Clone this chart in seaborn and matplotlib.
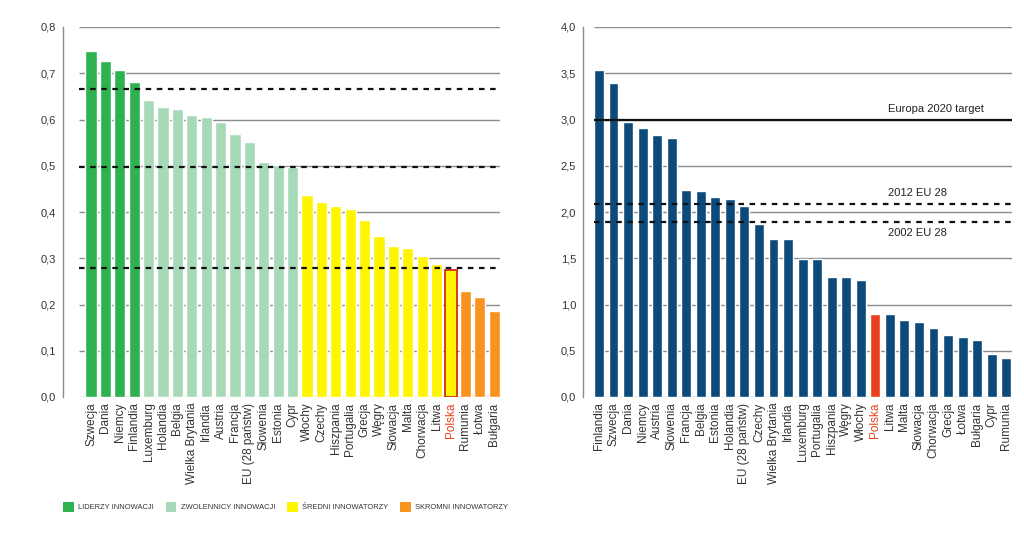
import matplotlib
matplotlib.use("Agg")
import matplotlib.pyplot as plt
import matplotlib.ticker as mticker
from matplotlib.patches import Patch
import seaborn as sns
import pandas as pd

sns.set_theme(style="white")
plt.rcParams['font.family'] = ['Liberation Sans', 'DejaVu Sans']

# ---- Left chart data ----
left_countries = ["Szwecja", "Dania", "Niemcy", "Finlandia", "Luxemburg", "Holandia", "Belgia",
                  "Wielka Brytania", "Irlandia", "Austria", "Francja", "EU (28 państw)", "Słowenia",
                  "Estonia", "Cypr", "Włochy", "Czechy", "Hiszpania", "Portugalia", "Grecja", "Węgry",
                  "Słowacja", "Malta", "Chorwacja", "Litwa", "Polska", "Rumunia", "Łotwa", "Bułgaria"]
left_values = [0.748, 0.727, 0.708, 0.682, 0.642, 0.626, 0.623, 0.609, 0.605, 0.594, 0.568, 0.551,
               0.509, 0.501, 0.498, 0.437, 0.422, 0.413, 0.407, 0.383, 0.348, 0.327, 0.322, 0.304,
               0.287, 0.275, 0.230, 0.217, 0.185]
left_groups = (["LIDERZY INNOWACJI"] * 4 + ["ZWOLENNICY INNOWACJI"] * 11 +
               ["ŚREDNI INNOWATORZY"] * 11 + ["SKROMNI INNOWATORZY"] * 3)
group_names = ["LIDERZY INNOWACJI", "ZWOLENNICY INNOWACJI", "ŚREDNI INNOWATORZY", "SKROMNI INNOWATORZY"]
group_colors = ["#2db24f", "#a6d9b8", "#fff500", "#f7931e"]
left_ref_lines = [0.666, 0.498, 0.279]

# ---- Right chart data ----
right_countries = ["Finlandia", "Szwecja", "Dania", "Niemcy", "Austria", "Słowenia", "Francja", "Belgia",
                   "Estonia", "Holandia", "EU (28 państw)", "Czechy", "Wielka Brytania", "Irlandia",
                   "Luxemburg", "Portugalia", "Hiszpania", "Węgry", "Włochy", "Polska", "Litwa", "Malta",
                   "Słowacja", "Chorwacja", "Grecja", "Łotwa", "Bułgaria", "Cypr", "Rumunia"]
right_values = [3.536, 3.396, 2.971, 2.910, 2.831, 2.795, 2.237, 2.223, 2.162, 2.144, 2.065, 1.874,
                1.709, 1.709, 1.496, 1.489, 1.295, 1.295, 1.263, 0.896, 0.896, 0.835, 0.813, 0.748,
                0.673, 0.647, 0.619, 0.468, 0.421]
target_value = 3.0
target_label = "Europa 2020 target"
eu_lines = [2.09, 1.888]
eu_labels = ["2012 EU 28", "2002 EU 28"]

NAVY = "#0b4a7b"
RED = "#e8401c"
GRID = "#8c8c8c"
TXT = "#333333"

fig = plt.figure(figsize=(10.24, 5.36), dpi=100)
axL = fig.add_axes([63/1024, 1-397/536, (500-63)/1024, (397-27)/536])
axR = fig.add_axes([583/1024, 1-397/536, (1012-583)/1024, (397-27)/536])

comma = mticker.FuncFormatter(lambda v, p: f"{v:.1f}".replace(".", ","))

# Left
dfL = pd.DataFrame({"country": left_countries, "value": left_values, "group": left_groups})
sns.barplot(data=dfL, x="country", y="value", hue="group", hue_order=group_names,
            palette=dict(zip(group_names, group_colors)), dodge=False, width=0.78,
            saturation=1, legend=False, ax=axL, zorder=3)
pol = left_countries.index("Polska")
for p in axL.patches:
    if abs(p.get_x() + p.get_width()/2 - pol) < 0.3 and p.get_height() > 0:
        p.set_edgecolor("#d42a1a")
        p.set_linewidth(1.3)
axL.set_ylim(0, 0.8)
axL.set_xlim(-1.95, len(left_countries) - 0.6)
axL.set_yticks([i/10 for i in range(9)])
axL.hlines([i/10 for i in range(9)], -0.85, len(left_countries) - 0.6, color=GRID, lw=1.0, zorder=1)
axL.hlines(left_ref_lines, -0.85, len(left_countries) - 0.6, color="#111111", lw=1.6,
           linestyles=(0, (2.5, 2.5)), zorder=4)

# Right
dfR = pd.DataFrame({"country": right_countries, "value": right_values})
pal_r = [RED if c == "Polska" else NAVY for c in right_countries]
sns.barplot(data=dfR, x="country", y="value", hue="country", palette=pal_r, dodge=False,
            width=0.68, saturation=1, legend=False, ax=axR, zorder=3)
axR.set_ylim(0, 4.0)
axR.set_xlim(-1.1, len(right_countries) - 0.6)
axR.set_yticks([i/2 for i in range(9)])
axR.hlines([i/2 for i in range(9)], -0.35, len(right_countries) - 0.6, color=GRID, lw=1.0, zorder=1)
axR.hlines([target_value], -0.35, len(right_countries) - 0.6, color="#111111", lw=1.6, zorder=4)
axR.hlines(eu_lines, -0.35, len(right_countries) - 0.6, color="#111111", lw=1.6,
           linestyles=(0, (2.5, 2.5)), zorder=4)
xt = 19.9
axR.text(xt, target_value + 0.06, target_label, ha="left", va="bottom", fontsize=8, color="#222222")
axR.text(xt, eu_lines[0] + 0.06, eu_labels[0], ha="left", va="bottom", fontsize=8, color="#222222")
axR.text(xt, eu_lines[1] - 0.06, eu_labels[1], ha="left", va="top", fontsize=8, color="#222222")

for ax, names in ((axL, left_countries), (axR, right_countries)):
    ax.yaxis.set_major_formatter(comma)
    ax.set_xlabel("")
    ax.set_ylabel("")
    for s in ("top", "right", "bottom"):
        ax.spines[s].set_visible(False)
    ax.spines["left"].set_color(GRID)
    ax.spines["left"].set_linewidth(1.0)
    ax.tick_params(axis="y", direction="inout", length=6, width=1, color=GRID,
                   labelsize=8, labelcolor=TXT, pad=2)
    ax.tick_params(axis="x", length=0, pad=4)
    ax.set_xticks(range(len(names)))
    ax.set_xticklabels(names, rotation=90, fontsize=8.5, color=TXT, va="top", ha="center")
    for lab in ax.get_xticklabels():
        if lab.get_text() == "Polska":
            lab.set_color(RED)

handles = [Patch(facecolor=c, edgecolor="none") for c in group_colors]
fig.legend(handles, group_names, loc="center left", bbox_to_anchor=(60/1024, 1-507/536),
           ncol=4, frameon=False, fontsize=5.4, handlelength=1.4, handleheight=1.5,
           handletextpad=0.6, columnspacing=1.6, labelcolor=TXT, borderaxespad=0)

fig.savefig("out.png", dpi=100)
